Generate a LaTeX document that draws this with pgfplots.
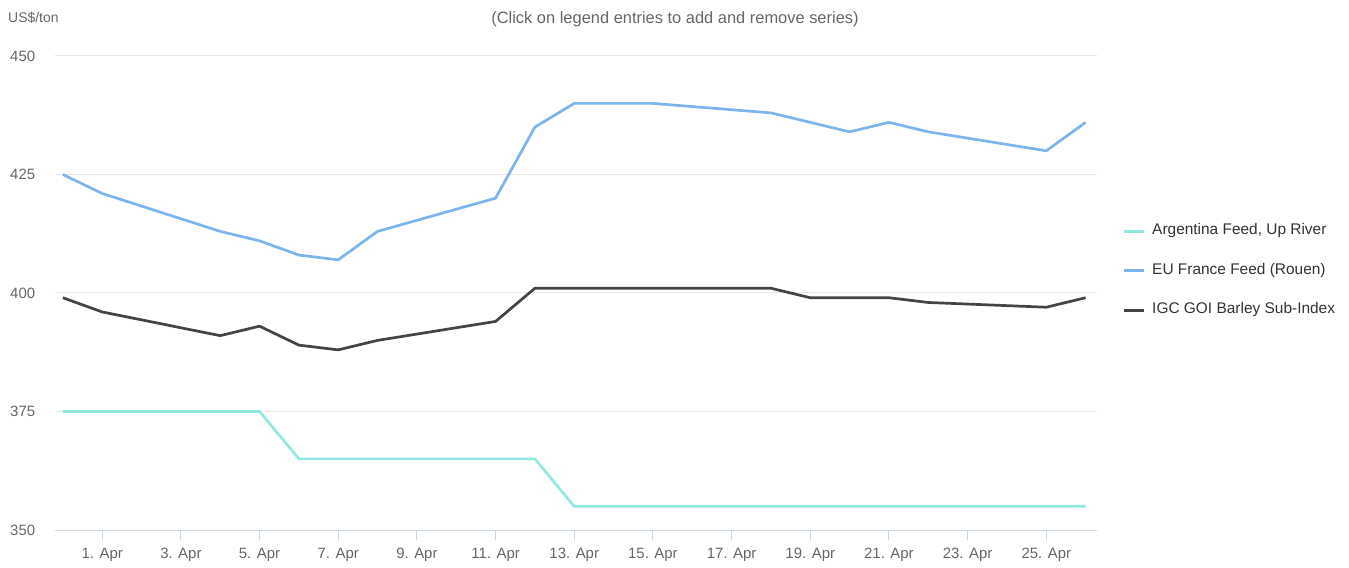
\documentclass[border=0pt]{standalone}
\usepackage{fontspec}
\setmainfont{Liberation Sans}
\usepackage{pgfplots}
\pgfplotsset{compat=1.18}

\definecolor{argcol}{HTML}{91E8E1}
\definecolor{eucol}{HTML}{7CB5EC}
\definecolor{igccol}{HTML}{434348}
\definecolor{gridcol}{HTML}{E6E6E6}
\definecolor{axiscol}{HTML}{CCD6EB}
\definecolor{ticktext}{HTML}{666666}
\definecolor{legtext}{HTML}{333333}

\begin{document}
\begin{tikzpicture}
\useasboundingbox (-55bp,-38bp) rectangle (1294bp,530bp);
\begin{axis}[
    at={(0,0)}, anchor=south west,
    scale only axis,
    width=1042bp, height=474bp,
    xmin=-0.2, xmax=26.29,
    ymin=350, ymax=450,
    ytick={350,375,400,425,450},
    xtick={1,3,5,7,9,11,13,15,17,19,21,23,25},
    xticklabels={1. Apr,3. Apr,5. Apr,7. Apr,9. Apr,11. Apr,13. Apr,15. Apr,17. Apr,19. Apr,21. Apr,23. Apr,25. Apr},
    axis x line*=bottom,
    axis y line*=left,
    x axis line style={draw=axiscol, line width=1bp},
    y axis line style={draw=none},
    ymajorgrids,
    grid style={gridcol, line width=1bp},
    xtick style={draw=axiscol, line width=1bp},
    ytick style={draw=none},
    major tick length=10bp,
    tick align=outside,
    /pgf/number format/assume math mode=true,
    tick label style={font=\fontsize{15}{18}\selectfont, text=ticktext},
    xticklabel style={yshift=-5bp},
    yticklabel style={anchor=west, inner sep=0pt, xshift=-35bp},
    legend style={
        at={(1.024,0.547)}, anchor=west,
        draw=none, fill=none,
        font=\fontsize{15.5}{18}\selectfont, text=legtext,
        row sep=24.5bp, column sep=7bp,
        inner sep=0pt,
        nodes={inner sep=0pt, text height=11bp, text depth=4bp},
    },
    legend cell align={left},
    legend image code/.code={\draw[#1, line width=3bp] (0bp,0bp) -- (20bp,0bp);},
]

% Argentina Feed, Up River
\addplot[argcol, line width=2.7bp, line join=round] coordinates {
    (0,375) (1,375) (4,375) (5,375) (6,365) (7,365) (8,365)
    (11,365) (12,365) (13,355) (14,355) (15,355) (18,355)
    (19,355) (20,355) (21,355) (22,355) (25,355) (26,355)
};
\addlegendentry{Argentina Feed, Up River}

% EU France Feed (Rouen)
\addplot[eucol, line width=2.7bp, line join=round] coordinates {
    (0,425) (1,421) (4,413) (5,411) (6,408) (7,407) (8,413)
    (11,420) (12,435) (13,440) (14,440) (15,440) (18,438)
    (19,436) (20,434) (21,436) (22,434) (25,430) (26,436)
};
\addlegendentry{EU France Feed (Rouen)}

% IGC GOI Barley Sub-Index
\addplot[igccol, line width=2.7bp, line join=round] coordinates {
    (0,399) (1,396) (4,391) (5,393) (6,389) (7,388) (8,390)
    (11,394) (12,401) (13,401) (14,401) (15,401) (18,401)
    (19,399) (20,399) (21,399) (22,398) (25,397) (26,399)
};
\addlegendentry{IGC GOI Barley Sub-Index}

\end{axis}
\node[anchor=west, inner sep=0pt, text=ticktext, font=\fontsize{14}{17}\selectfont] at (-47bp,512bp) {US\$/ton};
\node[inner sep=0pt, text=ticktext, font=\fontsize{16.5}{19}\selectfont] at (620bp,511bp) {(Click on legend entries to add and remove series)};
\end{tikzpicture}
\end{document}
